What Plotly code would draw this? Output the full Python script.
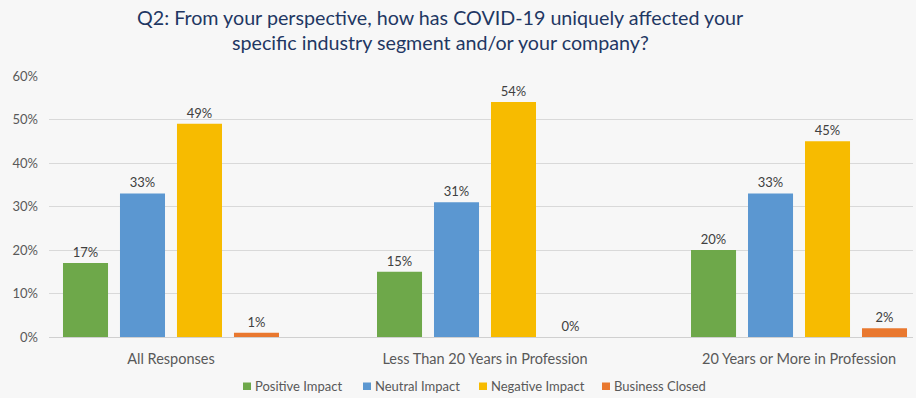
import plotly.graph_objects as go

# Survey groups and response shares (%)
groups = ["All Responses", "Less Than 20 Years in Profession", "20 Years or More in Profession"]
series_names = ["Positive Impact", "Neutral Impact", "Negative Impact", "Business Closed"]
positive = [17, 15, 20]
neutral = [33, 31, 33]
negative = [49, 54, 45]
closed = [1, 0, 2]
series_values = [positive, neutral, negative, closed]
colors = ["#6EA84A", "#5B97D1", "#F7BB00", "#E9782F"]
y_ticks = [0, 10, 20, 30, 40, 50, 60]

FONT = "Lato"
TEXT_GRAY = "#595959"

W, H = 916, 398
M_L, M_R, M_T, M_B = 49, 3, 76, 61
PLOT_W = W - M_L - M_R
PLOT_H = H - M_T - M_B


def px_x(px):
    return (px - M_L) / PLOT_W


def px_y(py):
    return (H - M_B - py) / PLOT_H


fig = go.Figure()
for name, vals, col in zip(series_names, series_values, colors):
    fig.add_trace(go.Bar(
        x=list(range(len(groups))),
        y=vals,
        name=name,
        marker=dict(color=col, line=dict(width=0)),
        text=[f"{v}%" for v in vals],
        textposition="outside",
        cliponaxis=False,
        textfont=dict(family=FONT, size=13, color="#404040"),
        showlegend=False,
    ))

# Legend drawn as small swatches with labels beneath the plot
legend_swatch_x = [243, 363, 479, 602]
shapes = []
annotations = []
for name, col, sx in zip(series_names, colors, legend_swatch_x):
    shapes.append(dict(
        type="rect", xref="paper", yref="paper",
        x0=px_x(sx), x1=px_x(sx + 8),
        y0=px_y(390), y1=px_y(382.5),
        fillcolor=col, line=dict(width=0),
    ))
    annotations.append(dict(
        text=name, xref="paper", yref="paper",
        x=px_x(sx + 10), y=px_y(386), xanchor="left", yanchor="middle",
        showarrow=False,
        font=dict(family=FONT, size=13, color=TEXT_GRAY),
    ))

title_lines = [
    ("Q2: From your perspective, how has COVID-19 uniquely affected your", 17),
    ("specific industry segment and/or your company?", 42),
]
for line, cy in title_lines:
    annotations.append(dict(
        text=line, xref="paper", yref="paper",
        x=px_x(440), y=px_y(cy), xanchor="center", yanchor="middle",
        showarrow=False,
        font=dict(family=FONT, size=19.7, color="#1F3763"),
    ))

fig.update_layout(
    width=W, height=H,
    margin=dict(l=M_L, r=M_R, t=M_T, b=M_B, autoexpand=False),
    paper_bgcolor="#F7F7F7",
    plot_bgcolor="#F7F7F7",
    barmode="group",
    bargap=0.274,
    bargroupgap=0.21,
    font=dict(family=FONT, color=TEXT_GRAY),
    showlegend=False,
    xaxis=dict(
        tickmode="array",
        tickvals=list(range(len(groups))),
        ticktext=groups,
        range=[-0.3885, 2.363],
        showgrid=False,
        zeroline=False,
        showline=False,
        ticks="",
        automargin=False,
        ticklabelstandoff=11,
        tickfont=dict(family=FONT, size=14.5, color=TEXT_GRAY),
    ),
    yaxis=dict(
        range=[0, 60],
        tickvals=y_ticks,
        ticktext=[f"{t}%" for t in y_ticks],
        showgrid=True,
        gridcolor="#D9D9D9",
        gridwidth=1,
        zeroline=True,
        zerolinecolor="#D0D0D0",
        zerolinewidth=1,
        ticks="",
        automargin=False,
        ticklabelstandoff=10,
        tickfont=dict(family=FONT, size=13, color=TEXT_GRAY),
    ),
    shapes=shapes,
    annotations=annotations,
)

fig.write_html("out.html")
